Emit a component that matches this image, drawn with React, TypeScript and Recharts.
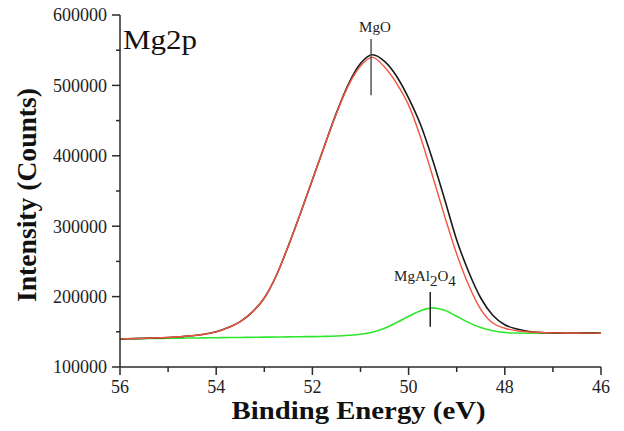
import React from "react"
import {
  LineChart,
  Line,
  XAxis,
  YAxis,
  ReferenceLine,
  ReferenceDot,
} from "recharts"

// binding energy (eV), left to right as plotted
const energy = [
  56, 55.75, 55.5, 55.25, 55, 54.75, 54.5, 54.25, 54, 53.75, 53.5, 53.25, 53,
  52.75, 52.5, 52.25, 52, 51.75, 51.5, 51.25, 51, 50.75, 50.5, 50.25, 50,
  49.75, 49.5, 49.25, 49, 48.75, 48.5, 48.25, 48, 47.75, 47.5, 47.25, 47,
  46.75, 46.5, 46.25, 46,
]

// envelope (black)
const envelope = [
  140000, 140300, 140700, 141300, 142000, 143000, 144300, 146500, 150000,
  156000, 164500, 178000, 198000, 230000, 272000, 318000, 366000, 414000,
  461000, 502000, 531000, 543500, 534000, 513000, 482000, 444000, 394000,
  338000, 280500, 235000, 198000, 173500, 160000, 154000, 150500, 149000,
  148500, 148300, 148200, 148100, 148000,
]

// MgO component (red)
const mgo = [
  140000, 140300, 140700, 141300, 142000, 143000, 144300, 146500, 150000,
  156000, 164500, 178000, 198000, 230000, 272000, 318000, 366000, 414000,
  460000, 500000, 527500, 539800, 526000, 503000, 472000, 426000, 371000,
  314000, 260500, 216000, 182000, 162500, 155000, 151500, 149800, 148900,
  148500, 148300, 148200, 148100, 148000,
]

// MgAl2O4 component (green)
const spinel = [
  140000, 140200, 140400, 140600, 140800, 141000, 141200, 141400, 141600,
  141800, 142000, 142200, 142400, 142600, 142800, 143000, 143200, 143500,
  144000, 145000, 146500, 149500, 155000, 163000, 172000, 180000, 184000,
  180500, 172000, 163000, 156000, 151500, 149000, 148200, 148000, 148000,
  148100, 148200, 148300, 148400, 148500,
]

const xTicks = [56, 55, 54, 53, 52, 51, 50, 49, 48, 47, 46]
const yTicks = [
  100000, 150000, 200000, 250000, 300000, 350000, 400000, 450000, 500000,
  550000, 600000,
]

const data = energy.map((e, i) => ({
  energy: e,
  envelope: envelope[i],
  mgo: mgo[i],
  spinel: spinel[i],
}))

const SERIF = "'Liberation Serif', 'Times New Roman', Times, serif"
const AXIS = "#2a2a2a"
const serifStyle = { fontFamily: SERIF }

function XTick({ x, y, payload }: any) {
  const major = payload.value % 2 === 0
  return (
    <g>
      <line x1={x} x2={x} y1={y} y2={y + (major ? 8 : 5)} stroke={AXIS} strokeWidth={1.5} />
      {major && (
        <text x={x} y={y + 26} textAnchor="middle" fontSize={18} style={serifStyle} fill="#222">
          {payload.value}
        </text>
      )}
    </g>
  )
}

function YTick({ x, y, payload }: any) {
  const major = payload.value % 100000 === 0
  return (
    <g>
      <line x1={x - (major ? 8 : 4)} x2={x} y1={y} y2={y} stroke={AXIS} strokeWidth={1.5} />
      {major && (
        <text x={x - 13} y={y} dy="0.35em" textAnchor="end" fontSize={18} style={serifStyle} fill="#222">
          {payload.value}
        </text>
      )}
    </g>
  )
}

export default function App() {
  return (
    <div style={{ position: "absolute", left: 0, top: 0, width: 624, height: 431, background: "#fff" }}>
      <LineChart
        width={624}
        height={431}
        data={data}
        margin={{ top: 15, right: 23, bottom: 34, left: 0 }}
      >
        <XAxis
          xAxisId="x"
          dataKey="energy"
          type="number"
          domain={[46, 56]}
          reversed
          ticks={xTicks}
          interval={0}
          height={30}
          tickSize={0}
          tickMargin={0}
          tickLine={false}
          axisLine={{ stroke: AXIS, strokeWidth: 1.5 }}
          tick={<XTick />}
          label={{
            content: ({ viewBox }: any) => (
              <text
                x={viewBox.x + viewBox.width / 2 - 2}
                y={viewBox.y + 52}
                textAnchor="middle"
                fontSize={26}
                fontWeight="bold"
                style={serifStyle}
                textLength={254}
                lengthAdjust="spacingAndGlyphs"
                fill="#111"
              >
                Binding Energy (eV)
              </text>
            ),
          }}
        />
        <XAxis
          xAxisId="top"
          orientation="top"
          type="number"
          domain={[46, 56]}
          reversed
          height={0}
          tick={false}
          tickLine={false}
          axisLine={{ stroke: "#444", strokeWidth: 2 }}
        />
        <YAxis
          yAxisId="y"
          type="number"
          domain={[100000, 600000]}
          ticks={yTicks}
          interval={0}
          width={120}
          tickSize={0}
          tickMargin={0}
          tickLine={false}
          axisLine={{ stroke: AXIS, strokeWidth: 1.5 }}
          tick={<YTick />}
          label={{
            content: ({ viewBox }: any) => {
              const cy = viewBox.y + viewBox.height / 2 + 4
              return (
                <text
                  x={36}
                  y={cy}
                  transform={`rotate(-90 36 ${cy})`}
                  textAnchor="middle"
                  fontSize={28}
                  fontWeight="bold"
                  style={serifStyle}
                  textLength={214}
                  lengthAdjust="spacingAndGlyphs"
                  fill="#111"
                >
                  Intensity (Counts)
                </text>
              )
            },
          }}
        />
        <YAxis
          yAxisId="right"
          orientation="right"
          type="number"
          domain={[100000, 600000]}
          width={0}
          tick={false}
          tickLine={false}
          axisLine={{ stroke: "#444", strokeWidth: 2 }}
        />

        <Line
          xAxisId="x"
          yAxisId="y"
          type="monotone"
          dataKey="spinel"
          stroke="#2ee62e"
          strokeWidth={1.6}
          dot={false}
          isAnimationActive={false}
        />
        <Line
          xAxisId="x"
          yAxisId="y"
          type="monotone"
          dataKey="envelope"
          stroke="#1a1a1a"
          strokeWidth={1.6}
          dot={false}
          isAnimationActive={false}
        />
        <Line
          xAxisId="x"
          yAxisId="y"
          type="monotone"
          dataKey="mgo"
          stroke="#f2553f"
          strokeWidth={1.4}
          dot={false}
          isAnimationActive={false}
        />

        <ReferenceLine
          xAxisId="x"
          yAxisId="y"
          segment={[{ x: 50.78, y: 486000 }, { x: 50.78, y: 566000 }]}
          stroke="#555"
          strokeWidth={1.5}
        />
        <ReferenceLine
          xAxisId="x"
          yAxisId="y"
          segment={[{ x: 49.55, y: 157000 }, { x: 49.55, y: 206500 }]}
          stroke="#222"
          strokeWidth={1.5}
        />

        <ReferenceDot
          xAxisId="x"
          yAxisId="y"
          x={50.7}
          y={576000}
          r={0}
          stroke="none"
          label={{
            content: ({ viewBox }: any) => (
              <text x={viewBox.x} y={viewBox.y} textAnchor="middle" fontSize={15} style={serifStyle} fill="#222">
                MgO
              </text>
            ),
          }}
        />
        <ReferenceDot
          xAxisId="x"
          yAxisId="y"
          x={49.66}
          y={222000}
          r={0}
          stroke="none"
          label={{
            content: ({ viewBox }: any) => (
              <text x={viewBox.x} y={viewBox.y} textAnchor="middle" fontSize={15} style={serifStyle} fill="#222">
                MgAl
                <tspan dy={5}>2</tspan>
                <tspan dy={-5}>O</tspan>
                <tspan dy={5}>4</tspan>
              </text>
            ),
          }}
        />
        <ReferenceDot
          xAxisId="x"
          yAxisId="y"
          x={56}
          y={600000}
          r={0}
          stroke="none"
          label={{
            content: ({ viewBox }: any) => (
              <text
                x={viewBox.x + 3}
                y={viewBox.y + 34}
                fontSize={28}
                style={serifStyle}
                textLength={74}
                lengthAdjust="spacingAndGlyphs"
                fill="#111"
              >
                Mg2p
              </text>
            ),
          }}
        />
      </LineChart>
    </div>
  )
}
